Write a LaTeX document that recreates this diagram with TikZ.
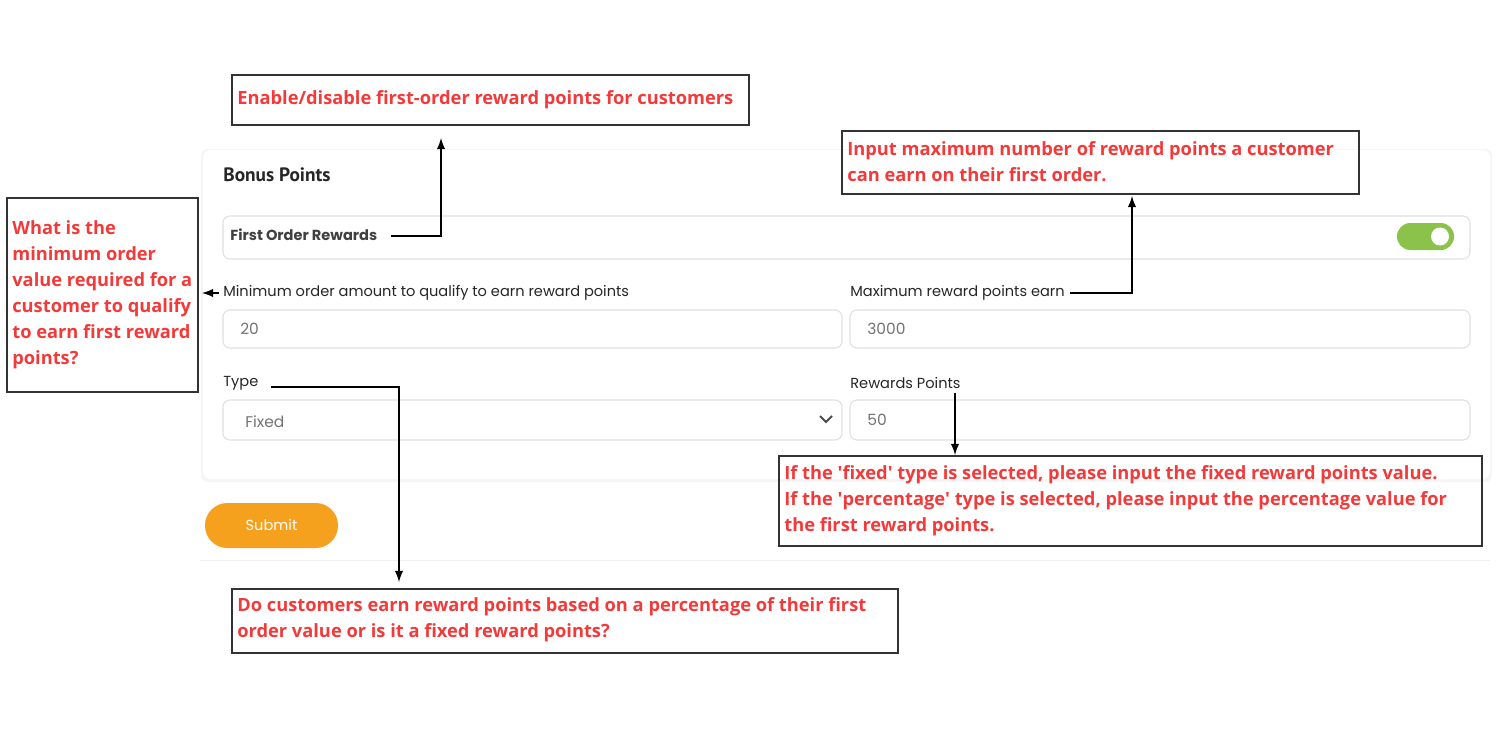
\documentclass[tikz,border=0pt]{standalone}
\usepackage{fontspec}
\setmainfont{Open Sans}
\newfontfamily\uifont{Poppins}
\newfontfamily\headfont{PT Sans}
\definecolor{nred}{HTML}{F23A3A}
\definecolor{tgl}{HTML}{8BC34A}
\definecolor{btn}{HTML}{F6A11E}
\begin{document}
\begin{tikzpicture}[x=0.02cm,y=-0.02cm,
  note/.style={draw=black!80,line width=0.6pt,inner sep=0pt},
  ntext/.style={anchor=west,text=nred,font=\fontsize{10.4pt}{14.8pt}\selectfont\bfseries,align=left,inner sep=0pt},
  ui/.style={anchor=west,inner sep=0pt,font=\uifont\fontsize{8.3pt}{10pt}\selectfont,text=black!85},
  val/.style={anchor=west,inner sep=0pt,font=\uifont\fontsize{8.8pt}{10pt}\selectfont,text=black!55},
  field/.style={draw=black!12,rounded corners=4pt,line width=0.6pt},
  arr/.style={-latex,line width=1.2pt,black}]
\useasboundingbox (0,0) rectangle (1500,750);
% card
\fill[black!4,rounded corners=4pt] (201,149) rectangle (1492,482);
\fill[white,rounded corners=4pt] (203,150) rectangle (1490,479);
\draw[black!6] (200,560) -- (1490,560);
\node[anchor=west,inner sep=0pt,font=\headfont\bfseries\fontsize{11pt}{12pt}\selectfont,text=black!85] (bp) at (223,175) {Bonus Points};
\draw[field] (223,216) rectangle (1470,259);
\node[ui,font=\uifont\fontsize{8.3pt}{10pt}\selectfont\bfseries,text=black!75] (fo) at (230,235) {First Order Rewards};
\fill[tgl,rounded corners=7.6pt] (1397,223) rectangle (1454,250);
\fill[white] (1440,236.5) circle (9);
\node[ui] (min) at (223,293) {Minimum order amount to qualify to earn reward points};
\node[ui] (max) at (850,293) {Maximum reward points earn};
\draw[field] (223,310) rectangle (842,348);
\draw[field] (850,310) rectangle (1470,348);
\node[val] (v20) at (240,329) {20};
\node[val] (v3000) at (867,329) {3000};
\node[ui] (type) at (223,383) {Type};
\node[ui] (rp) at (850,383) {Rewards Points};
\draw[field] (223,400) rectangle (842,440);
\draw[field] (850,400) rectangle (1470,440);
\node[val] (fx) at (245,422) {Fixed};
\node[val] (v50) at (867,420) {50};
\draw[black!70,line width=1.1pt] (820,416) -- (826,422) -- (832,416);
\fill[btn,rounded corners=12.7pt] (205,503) rectangle (338,548);
\node[ui,anchor=center,text=white] (sub) at (271.5,525.5) {Submit};
% notes
\draw[note] (232,75) rectangle (749,125);
\node[ntext] (n1) at (237,100) {Enable/disable first-order reward points for customers};
\draw[note] (842,131) rectangle (1359,194);
\node[ntext] (n2) at (847,162) {Input maximum number of reward points a customer\\can earn on their first order.};
\draw[note] (7,198) rectangle (198,392);
\node[ntext] (n3) at (12,295) {What is the\\minimum order\\value required for a\\customer to qualify\\to earn first reward\\points?};
\draw[note] (232,589) rectangle (898,653);
\node[ntext] (n4) at (237,620) {Do customers earn reward points based on a percentage of their first\\order value or is it a fixed reward points?};
\draw[note] (779,456) rectangle (1482,546);
\node[ntext] (n5) at (784,501) {If the \textquotesingle fixed\textquotesingle{} type is selected, please input the fixed reward points value.\\If the \textquotesingle percentage\textquotesingle{} type is selected, please input the percentage value for\\the first reward points.};
% arrows
\coordinate (c1) at (441,236);
\coordinate (e1) at (441,138);
\draw[arr] (fo.east) ++(13,1) -- (c1) -- (e1);
\coordinate (c2) at (1132,293);
\coordinate (e2) at (1132,196);
\draw[arr] (max.east) ++(5,0) -- (c2) -- (e2);
\coordinate (e3) at (202,293);
\draw[arr] (min.west) ++(-4,0) -- (e3);
\coordinate (c4) at (399,387);
\coordinate (e4) at (399,582);
\draw[arr] (type.east) ++(12,4) -- (c4) -- (e4);
\coordinate (e5) at (955,455);
\draw[arr] (955,393) -- (e5);
\end{tikzpicture}
\end{document}
